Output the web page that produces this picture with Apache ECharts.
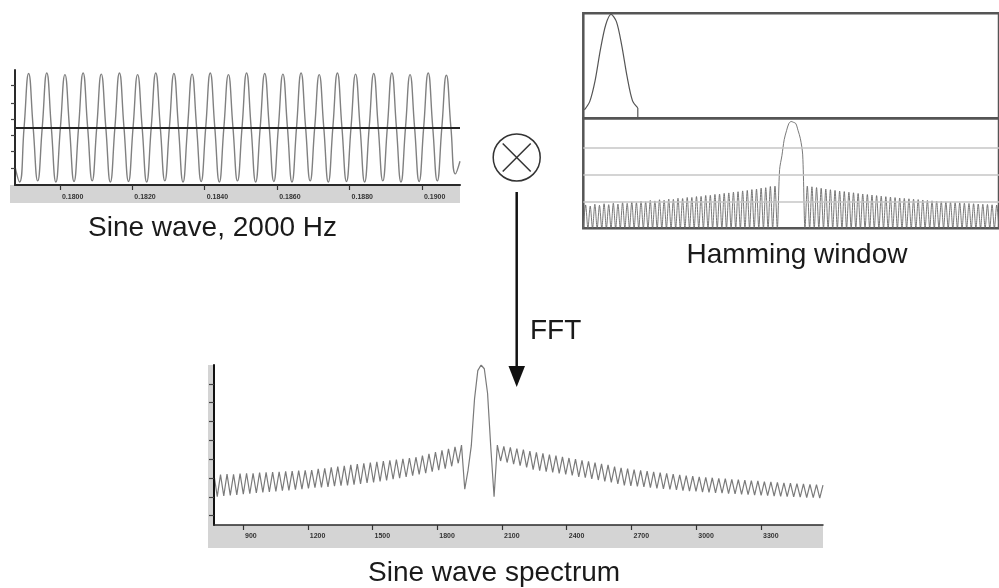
<!DOCTYPE html>
<html><head><meta charset="utf-8">
<script src="https://cdn.jsdelivr.net/npm/echarts@6/dist/echarts.min.js"></script>
<style>html,body{margin:0;padding:0;background:#fff}#c{width:999px;height:588px}</style>
</head><body><div id="c"></div>
<script>
// ---------- Sine wave, 2000 Hz (one sample per quarter period) ----------
const sineTimeRange = [0.17876, 0.19105];
const sineTickLabels = [0.1800, 0.1820, 0.1840, 0.1860, 0.1880, 0.1900];
const sineYTicks = [0.78, 0.45, 0.15, -0.14, -0.44, -0.74];
const sineWave = [
  -0.72, -1.0, 0, 0.99, 0, -0.98, 0, 1.0, 0, -1.0, 0, 0.97, 0, -0.99, 0, 1.0,
  0, -0.98, 0, 0.98, 0, -1.0, 0, 1.0, 0, -0.99, 0, 0.97, 0, -1.0, 0, 1.0,
  0, -0.98, 0, 0.99, 0, -1.0, 0, 0.98, 0, -0.99, 0, 1.0, 0, -1.0, 0, 0.97,
  0, -0.98, 0, 1.0, 0, -1.0, 0, 0.99, 0, -0.99, 0, 0.98, 0, -1.0, 0, 1.0,
  0, -0.98, 0, 0.97, 0, -1.0, 0, 1.0, 0, -0.99, 0, 0.98, 0, -1.0, 0, 0.99,
  0, -0.98, 0, 1.0, 0, -1.0, 0, 0.97, 0, -0.99, 0, 1.0, 0, -0.98, 0, 0.96,
  0, -0.85, -0.62
];

// ---------- Hamming window (time domain, ms) ----------
const hamTimeMax = 194.5;
const hamTime  = [0.5, 3, 5.5, 8, 10.5, 13, 15.5, 18, 20.5, 23, 25.5];
const hamValue = [0.08, 0.16, 0.36, 0.66, 0.90, 1.0, 0.93, 0.70, 0.40, 0.17, 0.10];
const hamTailTime  = [25.5, 25.5, 194.5];
const hamTailValue = [0.10, 0, 0];

// ---------- Hamming window spectrum (dB) ----------
const hamNullDb = -80;
const hamGridDb = [-20, -40, -60];
const hamLeftLobes = [-62.5,-63.4,-62.0,-62.8,-61.6,-62.3,-61.2,-61.9,-60.7,-61.3,-60.2,-60.8,-59.6,-60.1,
  -59.1,-59.5,-58.6,-59.0,-58.1,-58.3,-57.5,-57.7,-56.9,-56.9,-56.2,-56.1,-55.4,-55.3,-54.6,-54.4,
  -53.8,-53.5,-52.9,-52.6,-52.0,-51.6,-51.0,-50.6,-49.9,-49.6,-48.7,-48.4];
const hamMainLobe = [-80, -36, -25.6, -13.5, -6.9, -1.5, 0, -0.6, -1.5, -6.8, -12.9, -25, -80];
const hamRightLobes = [-48.4,-48.9,-49.5,-50.0,-50.6,-51.1,-51.6,-52.1,-52.5,-53.0,-53.4,-53.9,-54.3,-54.7,
  -55.1,-55.5,-55.9,-56.3,-56.6,-57.0,-57.3,-57.6,-57.9,-58.2,-58.5,-58.8,-59.1,-59.4,-59.6,-59.9,
  -60.2,-60.4,-60.7,-60.9,-61.2,-61.4,-61.6,-61.8,-62.0,-62.2,-62.4,-62.6];

// ---------- Windowed sine spectrum (dB) ----------
const specFreqRange = [765.6, 3587.3];
const specFreqTicks = [900, 1200, 1500, 1800, 2100, 2400, 2700, 3000, 3300];
const specYTicks = [0, 10, 20, 30, 40, 50, 60, 70];
const specLeft = [
  21.6,10.1,21.8,10.4,22.0,10.7,21.9,11.0,22.3,11.4,22.5,11.6,22.4,12.0,22.8,12.3,23.0,12.6,23.1,12.9,
  23.3,13.2,23.5,13.4,23.6,13.8,23.9,14.1,24.0,14.5,24.2,14.8,24.8,15.0,25.1,15.3,25.6,15.6,26.0,15.9,
  26.4,16.1,26.9,16.4,27.3,16.8,27.8,17.3,28.2,17.6,28.6,18.2,29.0,18.7,29.4,19.3,29.8,19.9,30.2,20.5,
  30.6,21.2,31.0,21.9,31.9,22.5,32.8,23.3,33.7,24.1,34.6,25.0,35.5,26.2,36.5,27.8,37.5];
const specMain = [14, 24, 37, 62, 77, 80, 78, 65, 36, 10];
const specRight = [
  37.5,29.0,36.8,28.2,36.3,27.4,35.6,26.6,35.0,25.6,34.3,24.4,33.6,23.9,33.0,23.4,32.4,22.9,31.8,22.4,
  31.2,21.9,30.6,21.4,30.0,20.6,29.4,20.1,28.8,19.5,28.1,18.9,27.5,18.2,26.9,17.6,26.0,16.9,25.3,16.1,
  24.9,15.8,24.4,15.5,24.0,15.2,23.6,14.9,23.2,14.5,22.8,14.2,22.4,13.9,22.0,13.6,21.6,13.3,21.2,13.0,
  20.9,12.8,20.6,12.5,20.3,12.3,20.1,12.1,19.8,11.9,19.6,11.7,19.3,11.5,19.1,11.3,18.9,11.1,18.6,10.9,
  18.4,10.7,18.1,10.6,17.9,10.4,17.7,10.2,17.4,10.1,17.2,9.9,17.0,9.8,16.8,9.6,16.6,9.5,16.4,9.3,16.2];

// ---------- build tables ----------
const sineCats = sineWave.map((_, i) => i);
const hamWin = hamTime.map((t, i) => [t, hamValue[i]]);
const hamTail = hamTailTime.map((t, i) => [t, hamTailValue[i]]);
const hamSpec = [];
hamLeftLobes.forEach(v => { hamSpec.push(hamNullDb, v); });
hamMainLobe.forEach(v => hamSpec.push(v));
hamRightLobes.forEach(v => { hamSpec.push(v, hamNullDb); });
const hamCats = hamSpec.map((_, i) => i);
const spec = specLeft.concat(specMain, specRight);
const specCats = spec.map((_, i) => i);

const AX = '#2a2a2a';
const tickLbl = { fontFamily: 'Liberation Sans', fontSize: 7, color: '#333', fontWeight: 'bold' };
const capFont = '28px "Liberation Sans"';

const chart = echarts.init(document.getElementById('c'), null, { renderer: 'canvas' });
chart.setOption({
  animation: false,
  backgroundColor: '#fff',
  grid: [
    { left: 15, top: 70, width: 445, height: 115 },
    { left: 583.3, top: 13.3, width: 428, height: 105, show: true, borderColor: '#555', borderWidth: 2.5 },
    { left: 583.3, top: 118.3, width: 428, height: 110, show: true, borderColor: '#555', borderWidth: 2.5 },
    { left: 214, top: 365, width: 609, height: 160 }
  ],
  xAxis: [
    { gridIndex: 0, type: 'category', position: 'bottom', data: sineCats, boundaryGap: false, show: false },
    { gridIndex: 0, type: 'value', position: 'bottom', min: sineTimeRange[0], max: sineTimeRange[1], z: 10,
      axisLine: { show: true, onZero: false, lineStyle: { color: AX, width: 2 } },
      axisTick: { show: true, customValues: sineTickLabels, length: 5, lineStyle: { color: '#333', width: 1.2 } },
      axisLabel: Object.assign({ customValues: sineTickLabels, formatter: v => v.toFixed(4), align: 'left', margin: 9, padding: [0,0,0,2] }, tickLbl),
      splitLine: { show: false } },
    { gridIndex: 3, type: 'category', position: 'bottom', data: specCats, boundaryGap: false, show: false },
    { gridIndex: 3, type: 'value', position: 'bottom', min: specFreqRange[0], max: specFreqRange[1], z: 10,
      axisLine: { show: true, onZero: false, lineStyle: { color: AX, width: 1.5 } },
      axisTick: { show: true, customValues: specFreqTicks, length: 5, lineStyle: { color: '#333', width: 1.2 } },
      axisLabel: Object.assign({ customValues: specFreqTicks, formatter: v => String(v), align: 'left', margin: 8, padding: [0,0,0,2] }, tickLbl),
      splitLine: { show: false } },
    { gridIndex: 1, type: 'value', min: 0, max: hamTimeMax, show: false },
    { gridIndex: 2, type: 'category', data: hamCats, boundaryGap: false, show: false }
  ],
  yAxis: [
    { gridIndex: 0, type: 'value', position: 'left', min: -1.055, max: 1.055, z: 10,
      axisLine: { show: true, onZero: false, lineStyle: { color: AX, width: 2 } },
      axisTick: { show: true, customValues: sineYTicks, length: 4, lineStyle: { color: '#444', width: 1.2 } },
      axisLabel: { show: false }, splitLine: { show: false } },
    { gridIndex: 3, type: 'value', position: 'left', min: -5, max: 80, z: 10,
      axisLine: { show: true, onZero: false, lineStyle: { color: '#111', width: 2 } },
      axisTick: { show: true, customValues: specYTicks, length: 5, lineStyle: { color: '#444', width: 1.2 } },
      axisLabel: { show: false }, splitLine: { show: false } },
    { gridIndex: 1, type: 'value', min: 0, max: 1.01, show: false },
    { gridIndex: 2, type: 'value', min: -80, max: 2.4, show: false }
  ],
  series: [
    { type: 'line', xAxisIndex: 0, yAxisIndex: 0, data: sineWave, smooth: 0.5, showSymbol: false,
      lineStyle: { color: '#808080', width: 1.4 },
      markLine: { silent: true, symbol: 'none', label: { show: false },
        lineStyle: { color: '#222', width: 2, type: 'solid' }, data: [{ yAxis: 0 }] } },
    { type: 'line', xAxisIndex: 4, yAxisIndex: 2, data: hamWin, smooth: 0.3, showSymbol: false,
      lineStyle: { color: '#555', width: 1.2 } },
    { type: 'line', xAxisIndex: 4, yAxisIndex: 2, data: hamTail, showSymbol: false,
      lineStyle: { color: '#555', width: 1.2 } },
    { type: 'line', xAxisIndex: 5, yAxisIndex: 3, data: hamSpec, smooth: 0.3, showSymbol: false,
      lineStyle: { color: '#6a6a6a', width: 0.9 },
      markLine: { silent: true, symbol: 'none', label: { show: false },
        lineStyle: { color: '#c6c6c6', width: 1.5, type: 'solid' },
        data: hamGridDb.map(v => ({ yAxis: v })) } },
    { type: 'line', xAxisIndex: 2, yAxisIndex: 1, data: spec, showSymbol: false,
      lineStyle: { color: '#7a7a7a', width: 1.2 } }
  ],
  graphic: [
    { type: 'rect', z: 1, silent: true, shape: { x: 10, y: 185, width: 450, height: 18 }, style: { fill: '#d4d4d4' } },
    { type: 'rect', z: 1, silent: true, shape: { x: 208, y: 525, width: 615, height: 23 }, style: { fill: '#d4d4d4' } },
    { type: 'rect', z: 1, silent: true, shape: { x: 208, y: 365, width: 6, height: 160 }, style: { fill: '#d4d4d4' } },
    { type: 'circle', z: 5, silent: true, shape: { cx: 516.7, cy: 157.5, r: 23.5 }, style: { fill: 'none', stroke: '#333', lineWidth: 1.5 } },
    { type: 'line', z: 5, silent: true, shape: { x1: 502.7, y1: 143.5, x2: 530.7, y2: 171.5 }, style: { stroke: '#333', lineWidth: 1.5 } },
    { type: 'line', z: 5, silent: true, shape: { x1: 530.7, y1: 143.5, x2: 502.7, y2: 171.5 }, style: { stroke: '#333', lineWidth: 1.5 } },
    { type: 'line', z: 5, silent: true, shape: { x1: 516.7, y1: 192, x2: 516.7, y2: 370 }, style: { stroke: '#111', lineWidth: 2.5 } },
    { type: 'polygon', z: 5, silent: true, shape: { points: [[508.5, 366], [525, 366], [516.7, 387]] }, style: { fill: '#111' } },
    { type: 'text', z: 5, silent: true, style: { x: 88, y: 228, text: 'Sine wave, 2000 Hz', font: capFont, fill: '#1a1a1a', textVerticalAlign: 'middle' } },
    { type: 'text', z: 5, silent: true, style: { x: 797, y: 255, text: 'Hamming window', font: capFont, fill: '#1a1a1a', textAlign: 'center', textVerticalAlign: 'middle' } },
    { type: 'text', z: 5, silent: true, style: { x: 530, y: 331, text: 'FFT', font: capFont, fill: '#1a1a1a', textVerticalAlign: 'middle' } },
    { type: 'text', z: 5, silent: true, style: { x: 368, y: 573, text: 'Sine wave spectrum', font: capFont, fill: '#1a1a1a', textVerticalAlign: 'middle' } }
  ]
});
</script>
</body></html>
